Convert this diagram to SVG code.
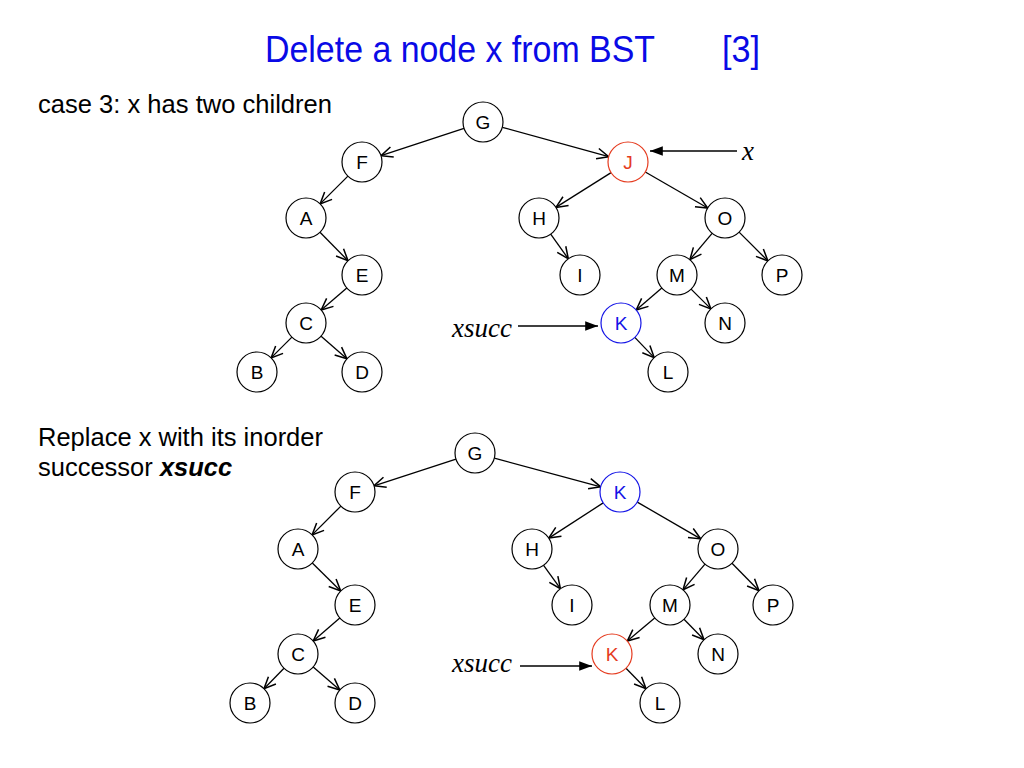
<svg xmlns="http://www.w3.org/2000/svg" width="1024" height="768" viewBox="0 0 1024 768">
<defs>
<style>
.nd{fill:#fff;stroke:#000;stroke-width:1.2}
.lb{font-family:"Liberation Sans",Arial,sans-serif;font-size:19px;text-anchor:middle;fill:#000}
.red .nd{stroke:#e53b1f}.red .lb{fill:#e53b1f}
.blue .nd{stroke:#1414e6}.blue .lb{fill:#1414e6}
.ed{stroke:#000;stroke-width:1.3;fill:none;marker-end:url(#open)}
.pt{stroke:#000;stroke-width:1.3;fill:none;marker-end:url(#solid)}
.tx{font-family:"Liberation Sans",Arial,sans-serif;font-size:25.5px;fill:#000}
.it{font-family:"Liberation Serif","Times New Roman",serif;font-style:italic;font-size:27px;fill:#000}
</style>
<marker id="open" markerUnits="userSpaceOnUse" markerWidth="14" markerHeight="14" viewBox="0 0 12 12" refX="11" refY="6" orient="auto">
<path d="M1,1.5 L11,6 L1,10.5" fill="none" stroke="#000" stroke-width="1.3"/>
</marker>
<marker id="solid" markerUnits="userSpaceOnUse" markerWidth="14" markerHeight="14" viewBox="0 0 12 12" refX="11" refY="6" orient="auto">
<path d="M0,2 L11,6 L0,10 Z" fill="#000"/>
</marker>
</defs>
<rect width="1024" height="768" fill="#fff"/>

<g id="title">
<text x="265" y="62" font-family="Liberation Sans, Arial, sans-serif" font-size="37" fill="#0a0ae6" textLength="390" lengthAdjust="spacingAndGlyphs">Delete a node x from BST</text>
<text x="722" y="62" font-family="Liberation Sans, Arial, sans-serif" font-size="37" fill="#0a0ae6" textLength="38" lengthAdjust="spacingAndGlyphs">[3]</text>
</g>
<g id="captions">
<text class="tx" x="38" y="113" textLength="294" lengthAdjust="spacingAndGlyphs">case 3: x has two children</text>
<text class="tx" x="38" y="446" textLength="285" lengthAdjust="spacingAndGlyphs">Replace x with its inorder</text>
<text class="tx" x="38" y="476">successor <tspan font-weight="bold" font-style="italic">xsucc</tspan></text>
</g>

<g id="connectors">
<!-- top tree -->
<line class="ed" x1="464" y1="128.3" x2="381" y2="155.7"/>
<line class="ed" x1="502.3" y1="127.3" x2="608.7" y2="156.7"/>
<line class="ed" x1="347.9" y1="176.1" x2="320.1" y2="203.9"/>
<line class="ed" x1="320" y1="232.3" x2="348" y2="260.7"/>
<line class="ed" x1="346.8" y1="288" x2="321.2" y2="310"/>
<line class="ed" x1="291.9" y1="337.1" x2="271.1" y2="357.9"/>
<line class="ed" x1="321.1" y1="336.2" x2="346.9" y2="358.8"/>
<line class="ed" x1="611.1" y1="172.6" x2="555.9" y2="207.4"/>
<line class="ed" x1="645.3" y1="172" x2="707.7" y2="208"/>
<line class="ed" x1="550.7" y1="234.2" x2="568.3" y2="258.8"/>
<line class="ed" x1="712.1" y1="233.3" x2="689.9" y2="259.7"/>
<line class="ed" x1="739.1" y1="232.1" x2="767.9" y2="260.9"/>
<line class="ed" x1="661.8" y1="288" x2="636.2" y2="310"/>
<line class="ed" x1="691.1" y1="289.1" x2="710.9" y2="308.9"/>
<line class="ed" x1="634.8" y1="337.4" x2="654.2" y2="357.6"/>
<line class="pt" x1="737" y1="151" x2="650" y2="151"/>
<line class="pt" x1="518" y1="326" x2="598" y2="326"/>
<!-- bottom tree -->
<line class="ed" x1="456" y1="459.2" x2="374" y2="485.8"/>
<line class="ed" x1="494.3" y1="458.2" x2="600.7" y2="486.8"/>
<line class="ed" x1="340.9" y1="506.1" x2="312.1" y2="534.9"/>
<line class="ed" x1="312.3" y1="563" x2="340.7" y2="591"/>
<line class="ed" x1="339.8" y1="618" x2="313.2" y2="641"/>
<line class="ed" x1="284" y1="668.3" x2="264" y2="688.7"/>
<line class="ed" x1="313.2" y1="667" x2="339.8" y2="690"/>
<line class="ed" x1="603.2" y1="502.9" x2="548.8" y2="538.1"/>
<line class="ed" x1="637.3" y1="502.1" x2="700.7" y2="538.9"/>
<line class="ed" x1="543.6" y1="565.3" x2="560.4" y2="588.7"/>
<line class="ed" x1="705" y1="564.2" x2="683" y2="589.8"/>
<line class="ed" x1="732" y1="563.3" x2="759" y2="590.7"/>
<line class="ed" x1="654.7" y1="617.9" x2="627.3" y2="641.1"/>
<line class="ed" x1="684" y1="619.3" x2="704" y2="639.7"/>
<line class="ed" x1="626" y1="668.3" x2="646" y2="688.7"/>
<line class="pt" x1="520" y1="666" x2="592" y2="666"/>
</g>

<g id="pointer-labels">
<text class="it" x="742" y="160">x</text>
<text class="it" x="452" y="337">xsucc</text>
<text class="it" x="452" y="672">xsucc</text>
</g>

<!-- top tree nodes -->
<g id="t-G"><circle class="nd" cx="483" cy="122" r="20"/><text class="lb" x="483" y="129">G</text></g>
<g id="t-F"><circle class="nd" cx="362" cy="162" r="20"/><text class="lb" x="362" y="169">F</text></g>
<g id="t-J" class="red"><circle class="nd" cx="628" cy="162" r="20"/><text class="lb" x="628" y="169">J</text></g>
<g id="t-A"><circle class="nd" cx="306" cy="218" r="20"/><text class="lb" x="306" y="225">A</text></g>
<g id="t-H"><circle class="nd" cx="539" cy="218" r="20"/><text class="lb" x="539" y="225">H</text></g>
<g id="t-O"><circle class="nd" cx="725" cy="218" r="20"/><text class="lb" x="725" y="225">O</text></g>
<g id="t-E"><circle class="nd" cx="362" cy="275" r="20"/><text class="lb" x="362" y="282">E</text></g>
<g id="t-I"><circle class="nd" cx="580" cy="275" r="20"/><text class="lb" x="580" y="282">I</text></g>
<g id="t-M"><circle class="nd" cx="677" cy="275" r="20"/><text class="lb" x="677" y="282">M</text></g>
<g id="t-P"><circle class="nd" cx="782" cy="275" r="20"/><text class="lb" x="782" y="282">P</text></g>
<g id="t-C"><circle class="nd" cx="306" cy="323" r="20"/><text class="lb" x="306" y="330">C</text></g>
<g id="t-K" class="blue"><circle class="nd" cx="621" cy="323" r="20"/><text class="lb" x="621" y="330">K</text></g>
<g id="t-N"><circle class="nd" cx="725" cy="323" r="20"/><text class="lb" x="725" y="330">N</text></g>
<g id="t-B"><circle class="nd" cx="257" cy="372" r="20"/><text class="lb" x="257" y="379">B</text></g>
<g id="t-D"><circle class="nd" cx="362" cy="372" r="20"/><text class="lb" x="362" y="379">D</text></g>
<g id="t-L"><circle class="nd" cx="668" cy="372" r="20"/><text class="lb" x="668" y="379">L</text></g>

<!-- bottom tree nodes -->
<g id="b-G"><circle class="nd" cx="475" cy="453" r="20"/><text class="lb" x="475" y="460">G</text></g>
<g id="b-F"><circle class="nd" cx="355" cy="492" r="20"/><text class="lb" x="355" y="499">F</text></g>
<g id="b-K" class="blue"><circle class="nd" cx="620" cy="492" r="20"/><text class="lb" x="620" y="499">K</text></g>
<g id="b-A"><circle class="nd" cx="298" cy="549" r="20"/><text class="lb" x="298" y="556">A</text></g>
<g id="b-H"><circle class="nd" cx="532" cy="549" r="20"/><text class="lb" x="532" y="556">H</text></g>
<g id="b-O"><circle class="nd" cx="718" cy="549" r="20"/><text class="lb" x="718" y="556">O</text></g>
<g id="b-E"><circle class="nd" cx="355" cy="605" r="20"/><text class="lb" x="355" y="612">E</text></g>
<g id="b-I"><circle class="nd" cx="572" cy="605" r="20"/><text class="lb" x="572" y="612">I</text></g>
<g id="b-M"><circle class="nd" cx="670" cy="605" r="20"/><text class="lb" x="670" y="612">M</text></g>
<g id="b-P"><circle class="nd" cx="773" cy="605" r="20"/><text class="lb" x="773" y="612">P</text></g>
<g id="b-C"><circle class="nd" cx="298" cy="654" r="20"/><text class="lb" x="298" y="661">C</text></g>
<g id="b-Kx" class="red"><circle class="nd" cx="612" cy="654" r="20"/><text class="lb" x="612" y="661">K</text></g>
<g id="b-N"><circle class="nd" cx="718" cy="654" r="20"/><text class="lb" x="718" y="661">N</text></g>
<g id="b-B"><circle class="nd" cx="250" cy="703" r="20"/><text class="lb" x="250" y="710">B</text></g>
<g id="b-D"><circle class="nd" cx="355" cy="703" r="20"/><text class="lb" x="355" y="710">D</text></g>
<g id="b-L"><circle class="nd" cx="660" cy="703" r="20"/><text class="lb" x="660" y="710">L</text></g>
</svg>
